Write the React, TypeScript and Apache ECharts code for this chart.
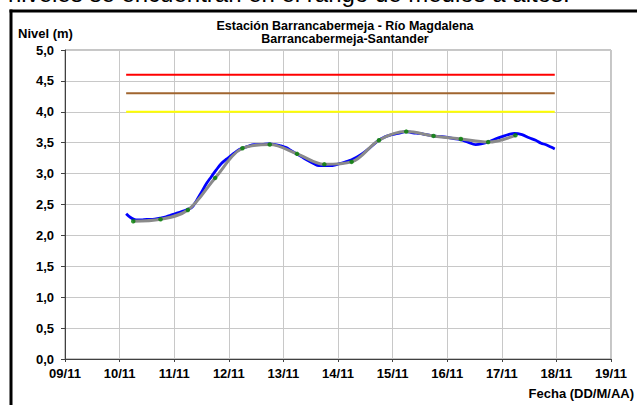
import React, { useEffect, useRef } from "react";
import * as echarts from "echarts";

const FONT = "'Liberation Sans', Arial, Helvetica, sans-serif";

const titleLines = ["Estación Barrancabermeja - Río Magdalena", "Barrancabermeja-Santander"];
const yAxisTitle = "Nivel (m)";
const xAxisTitle = "Fecha (DD/M/AA)";
const pageText = "niveles se encuentran en el rango de medios a altos.";

const xTickLabels = ["09/11", "10/11", "11/11", "12/11", "13/11", "14/11", "15/11", "16/11", "17/11", "18/11", "19/11"];

// observed level (blue), day of November
const observedDays = [
  10.12, 10.2, 10.3, 10.4, 10.5, 10.6, 10.74, 10.85, 10.94, 11.05, 11.15, 11.24, 11.32, 11.4, 11.5, 11.6,
  11.68, 11.77, 11.86, 11.95, 12.04, 12.14, 12.24, 12.35, 12.46, 12.6, 12.73, 12.85, 12.95, 13.05, 13.13,
  13.22, 13.32, 13.45, 13.56, 13.65, 13.76, 13.9, 14.03, 14.14, 14.24, 14.35, 14.46, 14.6, 14.75, 14.85,
  14.94, 15.1, 15.25, 15.37, 15.49, 15.62, 15.74, 15.86, 15.98, 16.1, 16.24, 16.38, 16.52, 16.62, 16.74,
  16.88, 17.01, 17.12, 17.23, 17.37, 17.5, 17.62, 17.72, 17.8, 17.9, 17.97,
];
const observedLevels = [
  2.35, 2.29, 2.25, 2.25, 2.26, 2.26, 2.28, 2.3, 2.33, 2.36, 2.39, 2.42, 2.45, 2.55, 2.7, 2.85,
  2.95, 3.06, 3.16, 3.23, 3.29, 3.36, 3.41, 3.44, 3.47, 3.47, 3.48, 3.47, 3.45, 3.42, 3.38,
  3.33, 3.28, 3.21, 3.16, 3.13, 3.13, 3.13, 3.16, 3.19, 3.22, 3.27, 3.33, 3.43, 3.54, 3.59,
  3.62, 3.65, 3.68, 3.66, 3.65, 3.63, 3.61, 3.6, 3.59, 3.57, 3.55, 3.51, 3.47, 3.48, 3.51,
  3.56, 3.6, 3.63, 3.65, 3.63, 3.58, 3.54, 3.49, 3.47, 3.43, 3.4,
];

// trend (gray line with green points), every 12 h
const trendDays = [10.25, 10.75, 11.25, 11.75, 12.25, 12.75, 13.25, 13.75, 14.25, 14.75, 15.25, 15.75, 16.25, 16.75, 17.25];
const trendLevels = [2.23, 2.26, 2.41, 2.93, 3.41, 3.47, 3.32, 3.15, 3.19, 3.54, 3.68, 3.61, 3.56, 3.51, 3.62];

// alert thresholds
const thresholdLevels = [4.6, 4.3, 4.0];
const thresholdColors = ["#ff0000", "#a0652f", "#ffff00"];
const thresholdSpan = [10.12, 17.97];

export default function App() {
  const ref = useRef<HTMLDivElement>(null);

  useEffect(() => {
    if (!ref.current) return;
    const chart = echarts.init(ref.current, undefined, { renderer: "svg" });

    const thresholdSeries = thresholdLevels.map((lvl, i) => ({
      type: "line",
      data: thresholdSpan.map((d) => [d, lvl]),
      showSymbol: false,
      silent: true,
      lineStyle: { color: thresholdColors[i], width: 2 },
      z: 2,
    }));

    const option: any = {
      animation: false,
      backgroundColor: "#ffffff",
      title: {
        text: titleLines.join("\n"),
        left: 340,
        top: 14,
        textAlign: "center",
        textStyle: { fontFamily: FONT, fontSize: 12.5, fontWeight: "bold", color: "#000", lineHeight: 13 },
      },
      grid: {
        left: 65,
        right: 26,
        top: 50,
        bottom: 46,
        containLabel: false,
        show: true,
        borderColor: "#8c8c8c",
        borderWidth: 1,
      },
      xAxis: {
        type: "value",
        min: 9,
        max: 19,
        interval: 1,
        axisLine: { show: true, onZero: false, lineStyle: { color: "#404040", width: 1 } },
        axisTick: { show: true, length: 3, lineStyle: { color: "#404040" } },
        axisLabel: {
          margin: 8,
          fontFamily: FONT,
          fontSize: 13,
          fontWeight: "bold",
          color: "#000",
          formatter: (v: number) => xTickLabels[Math.round(v - 9)] ?? "",
        },
        splitLine: { show: true, lineStyle: { color: "#c8c8c8", width: 1 } },
      },
      yAxis: {
        type: "value",
        min: 0,
        max: 5,
        interval: 0.5,
        axisLine: { show: true, lineStyle: { color: "#404040", width: 1 } },
        axisTick: { show: true, length: 4, lineStyle: { color: "#404040" } },
        axisLabel: {
          margin: 11,
          fontFamily: FONT,
          fontSize: 13,
          fontWeight: "bold",
          color: "#000",
          formatter: (v: number) => v.toFixed(1).replace(".", ","),
        },
        splitLine: { show: true, lineStyle: { color: "#c8c8c8", width: 1 } },
      },
      series: [
        ...thresholdSeries,
        {
          type: "line",
          data: observedDays.map((d, i) => [d, observedLevels[i]]),
          showSymbol: false,
          smooth: 0.4,
          silent: true,
          lineStyle: { color: "#0000ff", width: 2.8 },
          z: 3,
        },
        {
          type: "line",
          data: trendDays.map((d, i) => [d, trendLevels[i]]),
          showSymbol: false,
          smooth: 0.35,
          silent: true,
          lineStyle: { color: "#8a8a8a", width: 3 },
          z: 4,
        },
        {
          type: "scatter",
          data: trendDays.map((d, i) => [d, trendLevels[i]]),
          symbol: "circle",
          symbolSize: 4.5,
          silent: true,
          itemStyle: { color: "#008000" },
          z: 5,
        },
      ],
      graphic: [
        {
          type: "text",
          left: 8,
          top: -19,
          style: { text: pageText, fontFamily: FONT, fontSize: 24, fill: "#000" },
          z: 10,
        },
        { type: "rect", shape: { x: 9.5, y: 9.5, width: 640, height: 3 }, style: { fill: "#000" }, z: 10 },
        { type: "rect", shape: { x: 9.5, y: 9.5, width: 3, height: 400 }, style: { fill: "#000" }, z: 10 },
        {
          type: "text",
          left: 18,
          top: 27,
          style: { text: yAxisTitle, fontFamily: FONT, fontSize: 13, fontWeight: "bold", fill: "#000" },
        },
        {
          type: "text",
          right: 3,
          top: 387,
          style: { text: xAxisTitle, fontFamily: FONT, fontSize: 13, fontWeight: "bold", fill: "#000" },
        },
      ],
    };

    chart.setOption(option);
    return () => chart.dispose();
  }, []);

  return (
    <div
      ref={ref}
      style={{ position: "absolute", left: 0, top: 0, width: 637, height: 405, background: "#fff" }}
    />
  );
}
